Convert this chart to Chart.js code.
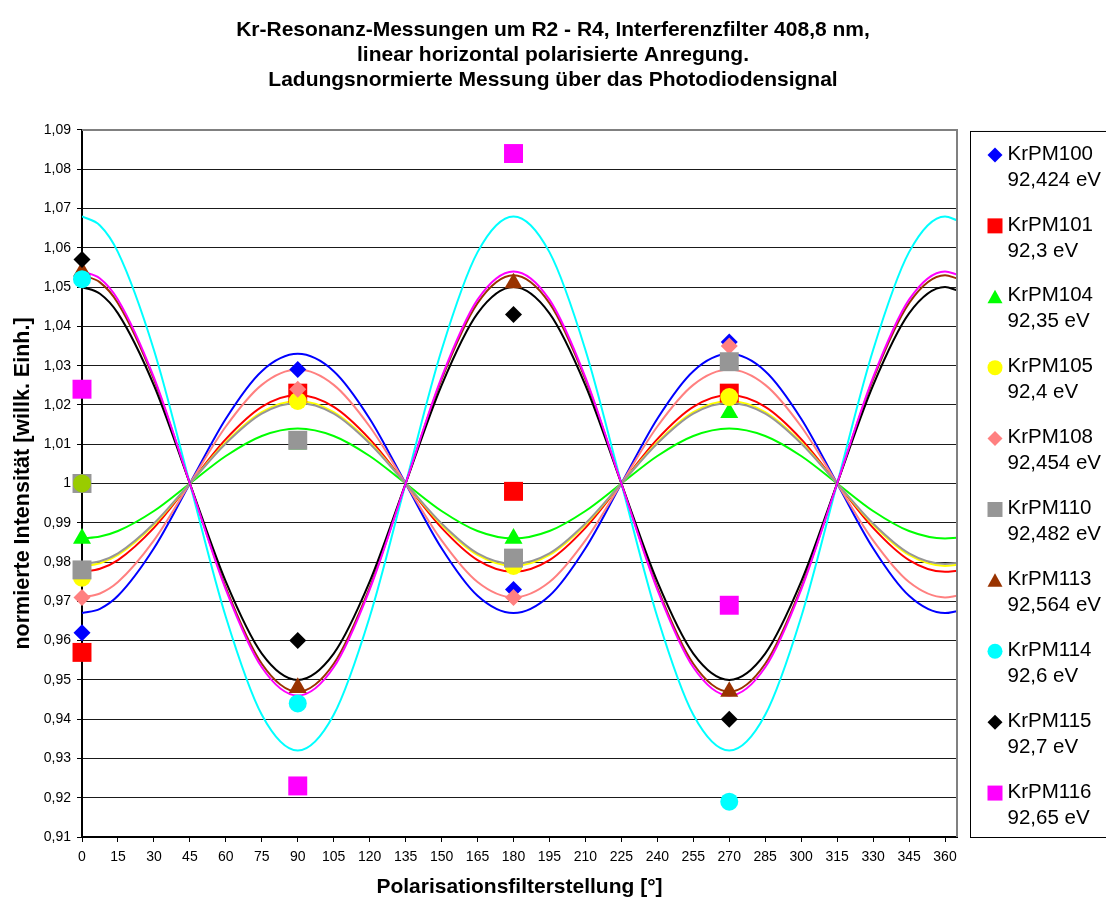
<!DOCTYPE html>
<html lang="de">
<head>
<meta charset="utf-8">
<title>Kr-Resonanz-Messungen um R2 - R4</title>
<script src="https://cdn.jsdelivr.net/npm/chart.js"></script>
<style>
  html, body { margin: 0; padding: 0; background: #ffffff; }
  #wrap { width: 1106px; height: 903px; }
</style>
</head>
<body>
<div id="wrap"><canvas id="chart" width="1106" height="903"></canvas></div>
<script>
// Polarizer positions of the measurements [°]
const measuredAngles = [0, 90, 180, 270];

// Charge-normalized intensities at 0°, 90°, 180°, 270°
const krpm100 = [0.962, 1.029, 0.973, 1.036];
const krpm101 = [0.957, 1.023, 0.998, 1.023];
const krpm104 = [0.986, 1.010, 0.986, 1.018];
const krpm105 = [0.976, 1.021, 0.979, 1.022];
const krpm108 = [0.971, 1.024, 0.971, 1.035];
const krpm110 = [0.978, 1.011, 0.981, 1.031];
const krpm113 = [1.054, 0.948, 1.051, 0.947];
const krpm114 = [1.052, 0.944, null, 0.919];
const krpm115 = [1.057, 0.960, 1.043, 0.940];
const krpm116 = [1.024, 0.923, 1.084, 0.969];

// Normalization reference at 0° (not listed in the legend)
const referenceAngles = [0];
const referenceValues = [1.000];

// Fitted curves, sampled along the polarizer axis
const fitAngles = [0, 7.5, 15, 30, 45, 60, 75, 90, 105, 120, 135, 150, 165, 180,
                   195, 210, 225, 240, 255, 270, 285, 300, 315, 330, 345, 360, 365];
const fit100 = [0.9670, 0.9681, 0.9714, 0.9835, 1.0000, 1.0165, 1.0286, 1.0330, 1.0286, 1.0165, 1.0000, 0.9835, 0.9714, 0.9670,
                0.9714, 0.9835, 1.0000, 1.0165, 1.0286, 1.0330, 1.0286, 1.0165, 1.0000, 0.9835, 0.9714, 0.9670, 0.9675];
const fit101 = [0.9775, 0.9783, 0.9805, 0.9887, 1.0000, 1.0113, 1.0195, 1.0225, 1.0195, 1.0113, 1.0000, 0.9887, 0.9805, 0.9775,
                0.9805, 0.9887, 1.0000, 1.0113, 1.0195, 1.0225, 1.0195, 1.0113, 1.0000, 0.9887, 0.9805, 0.9775, 0.9778];
const fit104 = [0.9860, 0.9865, 0.9879, 0.9930, 1.0000, 1.0070, 1.0121, 1.0140, 1.0121, 1.0070, 1.0000, 0.9930, 0.9879, 0.9860,
                0.9879, 0.9930, 1.0000, 1.0070, 1.0121, 1.0140, 1.0121, 1.0070, 1.0000, 0.9930, 0.9879, 0.9860, 0.9862];
const fit105 = [0.9790, 0.9797, 0.9818, 0.9895, 1.0000, 1.0105, 1.0182, 1.0210, 1.0182, 1.0105, 1.0000, 0.9895, 0.9818, 0.9790,
                0.9818, 0.9895, 1.0000, 1.0105, 1.0182, 1.0210, 1.0182, 1.0105, 1.0000, 0.9895, 0.9818, 0.9790, 0.9793];
const fit108 = [0.9710, 0.9720, 0.9749, 0.9855, 1.0000, 1.0145, 1.0251, 1.0290, 1.0251, 1.0145, 1.0000, 0.9855, 0.9749, 0.9710,
                0.9749, 0.9855, 1.0000, 1.0145, 1.0251, 1.0290, 1.0251, 1.0145, 1.0000, 0.9855, 0.9749, 0.9710, 0.9714];
const fit110 = [0.9795, 0.9802, 0.9822, 0.9898, 1.0000, 1.0102, 1.0178, 1.0205, 1.0178, 1.0102, 1.0000, 0.9898, 0.9822, 0.9795,
                0.9822, 0.9898, 1.0000, 1.0102, 1.0178, 1.0205, 1.0178, 1.0102, 1.0000, 0.9898, 0.9822, 0.9795, 0.9798];
const fit113 = [1.0530, 1.0512, 1.0459, 1.0265, 1.0000, 0.9735, 0.9541, 0.9470, 0.9541, 0.9735, 1.0000, 1.0265, 1.0459, 1.0530,
                1.0459, 1.0265, 1.0000, 0.9735, 0.9541, 0.9470, 0.9541, 0.9735, 1.0000, 1.0265, 1.0459, 1.0530, 1.0522];
const fit114 = [1.0680, 1.0657, 1.0589, 1.0340, 1.0000, 0.9660, 0.9411, 0.9320, 0.9411, 0.9660, 1.0000, 1.0340, 1.0589, 1.0680,
                1.0589, 1.0340, 1.0000, 0.9660, 0.9411, 0.9320, 0.9411, 0.9660, 1.0000, 1.0340, 1.0589, 1.0680, 1.0670];
const fit115 = [1.0500, 1.0483, 1.0433, 1.0250, 1.0000, 0.9750, 0.9567, 0.9500, 0.9567, 0.9750, 1.0000, 1.0250, 1.0433, 1.0500,
                1.0433, 1.0250, 1.0000, 0.9750, 0.9567, 0.9500, 0.9567, 0.9750, 1.0000, 1.0250, 1.0433, 1.0500, 1.0492];
const fit116 = [1.0540, 1.0522, 1.0468, 1.0270, 1.0000, 0.9730, 0.9532, 0.9460, 0.9532, 0.9730, 1.0000, 1.0270, 1.0468, 1.0540,
                1.0468, 1.0270, 1.0000, 0.9730, 0.9532, 0.9460, 0.9532, 0.9730, 1.0000, 1.0270, 1.0468, 1.0540, 1.0532];

// Run names and excitation energies
const seriesNames = ['KrPM100', 'KrPM101', 'KrPM104', 'KrPM105', 'KrPM108',
                     'KrPM110', 'KrPM113', 'KrPM114', 'KrPM115', 'KrPM116'];
const seriesEnergies = ['92,424 eV', '92,3 eV', '92,35 eV', '92,4 eV', '92,454 eV',
                        '92,482 eV', '92,564 eV', '92,6 eV', '92,7 eV', '92,65 eV'];

// Axis ticks
const xTickValues = [0, 15, 30, 45, 60, 75, 90, 105, 120, 135, 150, 165, 180,
                     195, 210, 225, 240, 255, 270, 285, 300, 315, 330, 345, 360];
const yTickValues = [0.91, 0.92, 0.93, 0.94, 0.95, 0.96, 0.97, 0.98, 0.99, 1.00,
                     1.01, 1.02, 1.03, 1.04, 1.05, 1.06, 1.07, 1.08, 1.09];

const titleLines = [
  'Kr-Resonanz-Messungen um R2 - R4, Interferenzfilter 408,8 nm,',
  'linear horizontal polarisierte Anregung.',
  'Ladungsnormierte Messung über das Photodiodensignal'
];
const xTitle = 'Polarisationsfilterstellung [°]';
const yTitle = 'normierte Intensität [willk. Einh.]';

// ---- styling ----
const FONT = '"Liberation Sans", Arial, Helvetica, sans-serif';
const measuredSets = [krpm100, krpm101, krpm104, krpm105, krpm108, krpm110, krpm113, krpm114, krpm115, krpm116];
const fitSets = [fit100, fit101, fit104, fit105, fit108, fit110, fit113, fit114, fit115, fit116];
const seriesStyles = [
  { color: '#0000FF', shape: 'diamond' },
  { color: '#FF0000', shape: 'square' },
  { color: '#00FF00', shape: 'triangle' },
  { color: '#FFFF00', shape: 'circle' },
  { color: '#FF8080', shape: 'diamond' },
  { color: '#969696', shape: 'square' },
  { color: '#993300', shape: 'triangle' },
  { color: '#00FFFF', shape: 'circle' },
  { color: '#000000', shape: 'diamond' },
  { color: '#FF00FF', shape: 'square' }
];
const chartPointStyle = { diamond: 'rectRot', square: 'rect', triangle: 'triangle', circle: 'circle' };
const chartPointRadius = { diamond: 8.5, square: 13.4, triangle: 10.4, circle: 9 };

const toXY = (xs, ys) => xs.map((x, i) => ({ x: x, y: ys[i] }));

const datasets = [];
// fitted curves: drawn underneath the markers, later runs on top
fitSets.forEach((vals, i) => {
  datasets.push({
    type: 'line',
    label: seriesNames[i] + ' Fit',
    data: toXY(fitAngles, vals),
    borderColor: seriesStyles[i].color,
    borderWidth: 2,
    pointRadius: 0,
    pointHoverRadius: 0,
    fill: false,
    cubicInterpolationMode: 'monotone',
    order: 200 - i
  });
});
// measured points
measuredSets.forEach((vals, i) => {
  const st = seriesStyles[i];
  datasets.push({
    type: 'scatter',
    label: seriesNames[i],
    data: toXY(measuredAngles, vals),
    showLine: false,
    clip: false,
    pointStyle: chartPointStyle[st.shape],
    pointRadius: chartPointRadius[st.shape],
    pointHoverRadius: chartPointRadius[st.shape],
    pointBackgroundColor: st.color,
    pointBorderColor: st.color,
    pointBorderWidth: 0,
    order: 100 - i
  });
});
// normalization reference at 0°
datasets.push({
  type: 'scatter', label: '', data: toXY(referenceAngles, referenceValues), showLine: false, clip: false,
  pointStyle: 'rect', pointRadius: 13.4, pointBackgroundColor: '#969696', pointBorderWidth: 0, order: 2
});
datasets.push({
  type: 'scatter', label: '', data: toXY(referenceAngles, referenceValues), showLine: false, clip: false,
  pointStyle: 'circle', pointRadius: 9, pointBackgroundColor: '#99CC00', pointBorderWidth: 0, order: 1
});

// legend marker shapes
function drawMarker(ctx, shape, x, y, color) {
  ctx.fillStyle = color;
  ctx.beginPath();
  if (shape === 'diamond') {
    const r = 7.5;
    ctx.moveTo(x, y - r); ctx.lineTo(x + r, y); ctx.lineTo(x, y + r); ctx.lineTo(x - r, y);
  } else if (shape === 'square') {
    ctx.rect(x - 7.5, y - 7.5, 15, 15);
  } else if (shape === 'triangle') {
    ctx.moveTo(x, y - 7); ctx.lineTo(x + 7.5, y + 6.5); ctx.lineTo(x - 7.5, y + 6.5);
  } else {
    ctx.arc(x, y, 7.5, 0, Math.PI * 2);
  }
  ctx.closePath();
  ctx.fill();
}

// grey frame on the top and right of the plot area
const plotFrame = {
  id: 'plotFrame',
  afterDatasetsDraw(chart) {
    const { ctx, chartArea: a } = chart;
    ctx.save();
    ctx.strokeStyle = '#808080';
    ctx.lineWidth = 2;
    ctx.beginPath();
    ctx.moveTo(a.left, a.top);
    ctx.lineTo(a.right, a.top);
    ctx.lineTo(a.right, a.bottom);
    ctx.stroke();
    ctx.restore();
  }
};

// boxed legend with two text lines per run
const sideLegend = {
  id: 'sideLegend',
  afterDraw(chart) {
    const { ctx, chartArea: a } = chart;
    const left = a.right + 13.5;
    const top = a.top + 1.5;
    const bottom = a.bottom + 0.5;
    ctx.save();
    ctx.strokeStyle = '#000000';
    ctx.lineWidth = 1;
    ctx.strokeRect(left, top, 200, bottom - top);
    ctx.font = '20.5px ' + FONT;
    ctx.textAlign = 'left';
    ctx.textBaseline = 'middle';
    for (let i = 0; i < seriesNames.length; i++) {
      const y = top + 22.5 + i * 70.9;
      drawMarker(ctx, seriesStyles[i].shape, left + 24.5, y + 1, seriesStyles[i].color);
      ctx.fillStyle = '#000000';
      ctx.fillText(seriesNames[i], left + 37, y);
      ctx.fillText(seriesEnergies[i], left + 37, y + 26);
    }
    ctx.restore();
  }
};

const fmtY = v => String(Math.round(v * 100) / 100).replace('.', ',');

new Chart(document.getElementById('chart'), {
  data: { datasets: datasets },
  options: {
    responsive: false,
    animation: false,
    events: [],
    layout: { padding: 0 },
    plugins: {
      legend: { display: false },
      tooltip: { enabled: false },
      title: {
        display: true,
        text: titleLines,
        color: '#000000',
        font: { family: FONT, size: 21, weight: 'bold', lineHeight: 1.19 },
        padding: { top: 18, bottom: 37 }
      }
    },
    scales: {
      x: {
        type: 'linear',
        min: 0,
        max: 365,
        afterBuildTicks: s => { s.ticks = xTickValues.map(v => ({ value: v })); },
        afterFit: s => { s.height = 66; },
        border: { color: '#000000', width: 2 },
        grid: { drawOnChartArea: false, drawTicks: true, tickLength: 5, tickColor: '#000000', tickWidth: 1 },
        ticks: {
          color: '#000000',
          font: { family: FONT, size: 14 },
          padding: 7,
          maxRotation: 0,
          autoSkip: false,
          callback: v => String(v)
        },
        title: {
          display: true,
          text: xTitle,
          color: '#000000',
          font: { family: FONT, size: 21, weight: 'bold' },
          padding: { top: 0, bottom: 3.5 }
        }
      },
      y: {
        type: 'linear',
        min: 0.91,
        max: 1.09,
        afterBuildTicks: s => { s.ticks = yTickValues.map(v => ({ value: v })); },
        afterFit: s => { s.width = 82; },
        border: { color: '#000000', width: 2 },
        grid: { color: '#1a1a1a', lineWidth: 1, drawTicks: true, tickLength: 5, tickColor: '#000000' },
        ticks: {
          color: '#000000',
          font: { family: FONT, size: 14 },
          padding: 6,
          autoSkip: false,
          callback: v => fmtY(v)
        },
        title: {
          display: true,
          text: yTitle,
          color: '#000000',
          font: { family: FONT, size: 21.5, weight: 'bold' },
          padding: { top: 10, bottom: 0 }
        }
      },
      // reserves the strip on the right that holds the legend box
      legendStrip: {
        type: 'linear',
        position: 'right',
        min: 0,
        max: 1,
        afterFit: s => { s.width = 149; },
        ticks: { display: false },
        grid: { display: false },
        border: { display: false }
      }
    }
  },
  plugins: [plotFrame, sideLegend]
});
</script>
</body>
</html>
